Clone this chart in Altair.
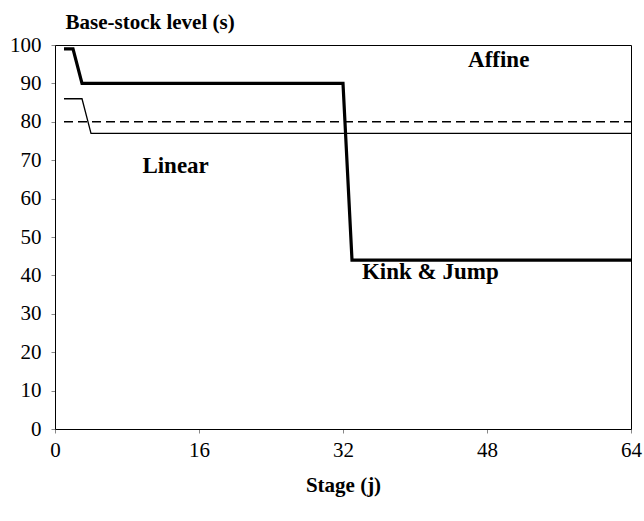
import altair as alt
import pandas as pd

# Kink & Jump policy (thick line)
stage_kj = [1, 2, 3, 32, 33, 64]
base_kj = [99, 99, 90, 90, 44, 44]
# Linear policy (thin line)
stage_lin = [1, 3, 4, 64]
base_lin = [86, 86, 77, 77]
# Affine policy (dashed line)
stage_aff = [1, 64]
base_aff = [80, 80]

x_ticks = [0, 16, 32, 48, 64]
y_ticks = [0, 10, 20, 30, 40, 50, 60, 70, 80, 90, 100]

labels_text = ["Affine", "Linear", "Kink & Jump"]
labels_x = [49.3, 13.4, 41.7]
labels_y = [96.0, 68.5, 40.8]

FONT = "Liberation Serif"

df_kj = pd.DataFrame({"stage": stage_kj, "base": base_kj})
df_lin = pd.DataFrame({"stage": stage_lin, "base": base_lin})
df_aff = pd.DataFrame({"stage": stage_aff, "base": base_aff})
df_lab = pd.DataFrame({"text": labels_text, "stage": labels_x, "base": labels_y})

xs = alt.Scale(domain=[0, 64], nice=False, zero=False)
ys = alt.Scale(domain=[0, 100], nice=False)

x_enc = alt.X(
    "stage:Q",
    scale=xs,
    axis=alt.Axis(values=x_ticks, title="Stage (j)", titlePadding=14, labelPadding=6),
)
y_enc = alt.Y(
    "base:Q",
    scale=ys,
    axis=alt.Axis(
        values=y_ticks,
        title="Base-stock level (s)",
        labelPadding=10,
        titleAngle=0,
        titleAlign="left",
        titleBaseline="alphabetic",
        titleX=10,
        titleY=-17,
    ),
)

kj = alt.Chart(df_kj).mark_line(color="black", strokeWidth=3.2).encode(x=x_enc, y=y_enc)
lin = alt.Chart(df_lin).mark_line(color="black", strokeWidth=1.3).encode(x=x_enc, y=y_enc)
aff = alt.Chart(df_aff).mark_line(color="black", strokeWidth=1.6, strokeDash=[9, 5]).encode(x=x_enc, y=y_enc)
txt = alt.Chart(df_lab).mark_text(
    font=FONT, fontSize=23, fontWeight="bold", color="black", align="center", baseline="middle"
).encode(x=x_enc, y=y_enc, text="text:N")

chart = (
    alt.layer(aff, lin, kj, txt)
    .properties(
        width=576,
        height=384,
        autosize=alt.AutoSizeParams(type="none"),
        padding={"left": 55, "top": 45, "right": 13, "bottom": 92},
        background="white",
    )
    .configure(font=FONT)
    .configure_axis(
        grid=False,
        labelFont=FONT,
        labelFontSize=21,
        labelColor="black",
        labelFlush=False,
        labelOverlap=False,
        tickSize=4,
        tickColor="#888888",
        domainColor="black",
        titleFont=FONT,
        titleFontSize=21,
        titleFontWeight="bold",
        titleColor="black",
    )
    .configure_view(stroke="black", strokeWidth=1)
)

chart.save("out.html", embed_options={"renderer": "svg", "actions": False})
